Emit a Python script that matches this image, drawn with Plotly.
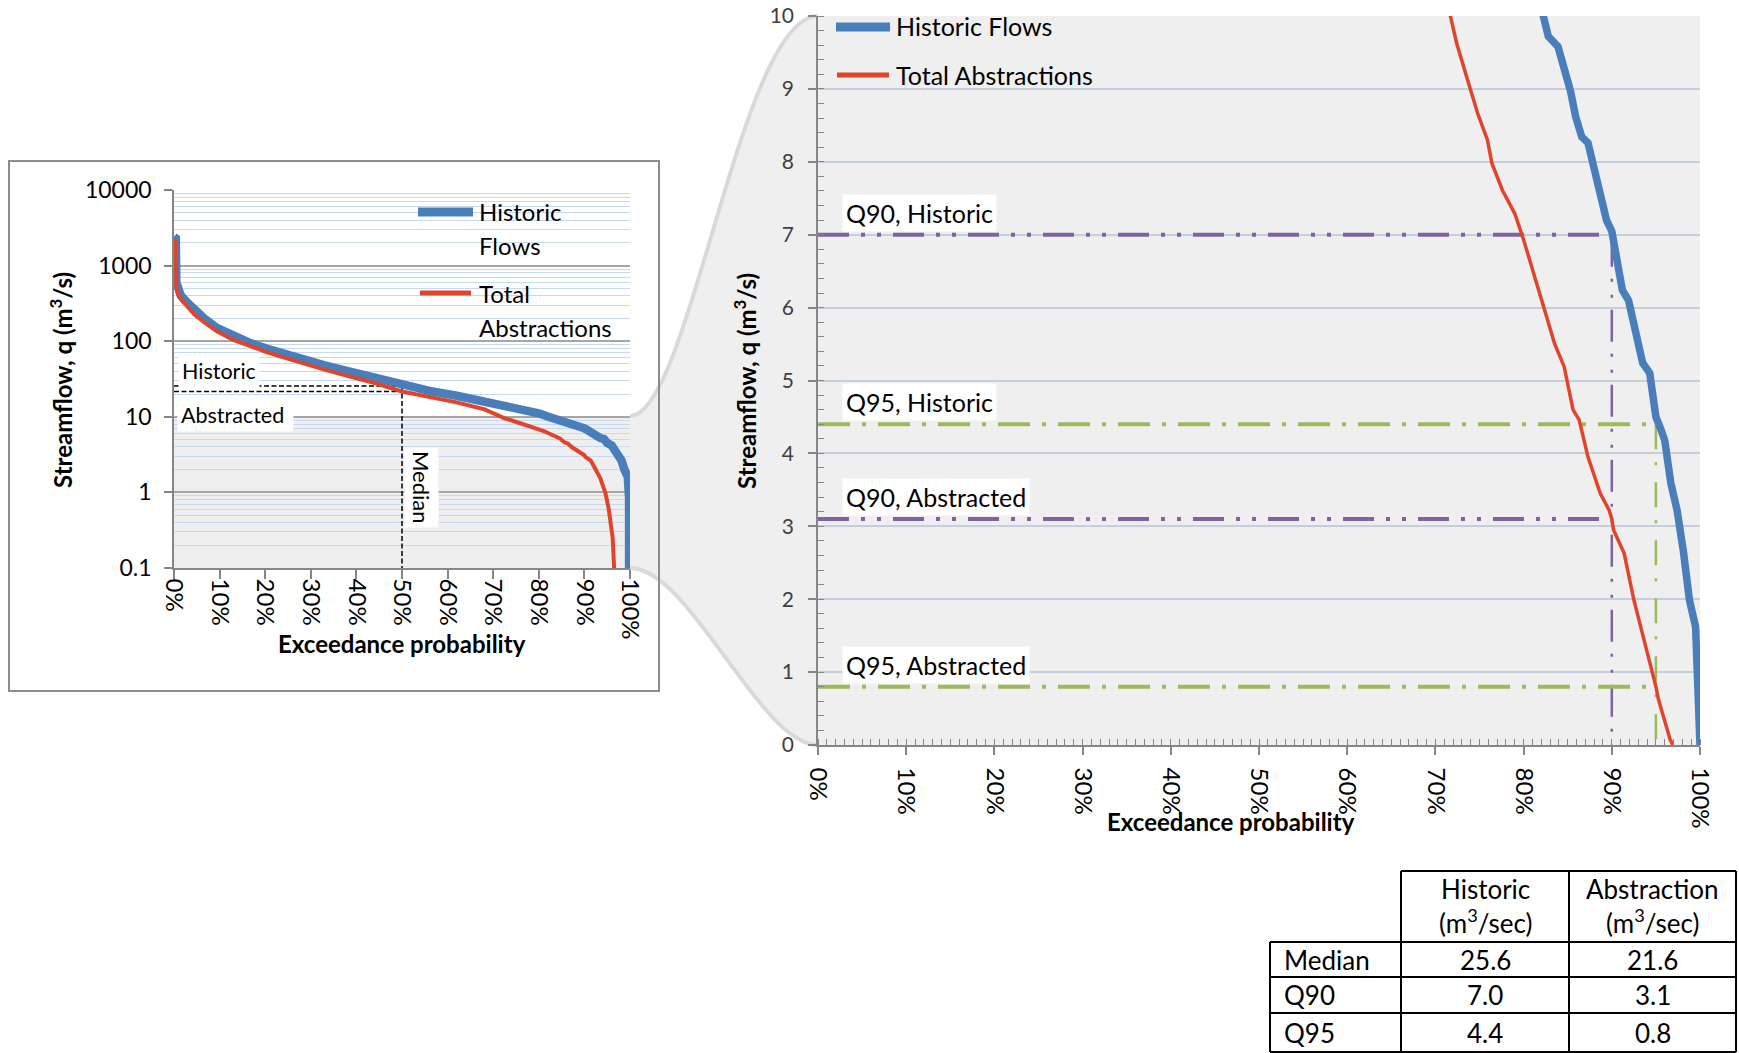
import plotly.graph_objects as go

W, H = 1739, 1053

# ---------------- data ----------------
hist_p = [0.000, 0.004, 0.005, 0.008, 0.015, 0.028, 0.045, 0.066, 0.094, 0.130,
          0.170, 0.203, 0.240, 0.276, 0.330, 0.386, 0.440, 0.500, 0.560, 0.620,
          0.680, 0.744, 0.800, 0.821, 0.828, 0.839, 0.853, 0.859, 0.866, 0.873,
          0.884, 0.894, 0.900, 0.905, 0.912, 0.919, 0.929, 0.935, 0.943, 0.950,
          0.955, 0.960, 0.967, 0.974, 0.981, 0.988, 0.995, 0.998, 0.9995, 1.000, 1.000]
hist_q = [2400, 2300, 600, 480, 400, 330, 255, 200, 150, 116,
          93, 80, 68, 59, 48, 39.5, 33, 25.6, 22, 19,
          16, 13, 11.1, 10.0, 9.72, 9.58, 8.98, 8.62, 8.34, 8.26,
          7.66, 7.20, 7.05, 6.75, 6.24, 6.10, 5.51, 5.24, 5.10, 4.50,
          4.35, 4.18, 3.59, 3.22, 2.67, 1.99, 1.62, 0.85, 0.30, 0.05, 0.0]

abst_p = [0.000, 0.004, 0.005, 0.008, 0.015, 0.028, 0.045, 0.066, 0.094, 0.130,
          0.170, 0.203, 0.240, 0.276, 0.330, 0.386, 0.440, 0.500, 0.560, 0.620,
          0.680, 0.717, 0.724, 0.741, 0.748, 0.759, 0.764, 0.776, 0.790, 0.800,
          0.811, 0.825, 0.835, 0.846, 0.856, 0.863, 0.873, 0.887, 0.897, 0.900,
          0.902, 0.914, 0.925, 0.935, 0.946, 0.950, 0.953, 0.962, 0.966, 0.969]
abst_q = [2200, 2100, 520, 430, 360, 290, 225, 178, 135, 104,
          84, 72, 61, 52, 42, 34, 28, 21.6, 18.2, 15.5,
          12.6, 10.0, 9.63, 8.94, 8.66, 8.30, 7.98, 7.61, 7.29, 6.93,
          6.47, 5.92, 5.51, 5.19, 4.60, 4.46, 3.95, 3.45, 3.22, 3.10,
          2.95, 2.63, 1.99, 1.53, 0.99, 0.80, 0.62, 0.25, 0.08, 0.0]

stat_names = ["Median", "Q90", "Q95"]
stat_exceed = [0.50, 0.90, 0.95]
hist_stats = [25.6, 7.0, 4.4]
abst_stats = [21.6, 3.1, 0.8]

log_tickvals = [0.1, 1, 10, 100, 1000, 10000]
log_ticktext = ["0.1", "1", "10", "100", "1000", "10000"]
pct_tickvals = [0, 0.1, 0.2, 0.3, 0.4, 0.5, 0.6, 0.7, 0.8, 0.9, 1.0]
pct_ticktext = ["0%", "10%", "20%", "30%", "40%", "50%", "60%", "70%", "80%", "90%", "100%"]
lin_tickvals = [0, 1, 2, 3, 4, 5, 6, 7, 8, 9, 10]

series_names = ["Historic Flows", "Total Abstractions"]

# ---------------- styles ----------------
FONT = "Lato"
BLUE = "#4a7ebb"
RED = "#e0452b"
PURPLE = "#7f63a1"
GREEN = "#9bbb59"
AXIS = "#868686"


def fx(px):
    return px / W


def fy(py):
    return 1 - py / H


fig = go.Figure()

# ---- left chart (log) ----
med_i = 0
dash_black = dict(color="black", width=1.5, dash="5px,2.5px")
fig.add_trace(go.Scatter(x=[0, stat_exceed[med_i]], y=[hist_stats[med_i]] * 2, mode="lines",
                         line=dash_black, xaxis="x", yaxis="y", showlegend=False, hoverinfo="skip"))
fig.add_trace(go.Scatter(x=[0, stat_exceed[med_i]], y=[abst_stats[med_i]] * 2, mode="lines",
                         line=dash_black, xaxis="x", yaxis="y", showlegend=False, hoverinfo="skip"))
fig.add_trace(go.Scatter(x=[stat_exceed[med_i]] * 2, y=[hist_stats[med_i], log_tickvals[0]], mode="lines",
                         line=dash_black, xaxis="x", yaxis="y", showlegend=False, hoverinfo="skip"))
fig.add_trace(go.Scatter(x=hist_p, y=hist_q, mode="lines", name=series_names[0],
                         line=dict(color=BLUE, width=8.5), xaxis="x", yaxis="y", showlegend=False))
fig.add_trace(go.Scatter(x=abst_p, y=abst_q, mode="lines", name=series_names[1],
                         line=dict(color=RED, width=4), xaxis="x", yaxis="y", showlegend=False))

# ---- right chart (linear zoom) ----
qcol = [None, PURPLE, GREEN]
qdash = [None, "31px,12px,4px,12px,4px,12px", "32px,12px,4px,12px"]
vdash = [None, "32px,12px,3px,13px,3px,12px", "25px,13px,3px,17px"]
for i in (1, 2):
    for vals in (hist_stats, abst_stats):
        fig.add_trace(go.Scatter(x=[0, stat_exceed[i]], y=[vals[i]] * 2, mode="lines",
                                 line=dict(color=qcol[i], width=4, dash=qdash[i]),
                                 xaxis="x2", yaxis="y2", showlegend=False, hoverinfo="skip"))
    fig.add_trace(go.Scatter(x=[stat_exceed[i]] * 2, y=[hist_stats[i], 0], mode="lines",
                             line=dict(color=qcol[i], width=2.5, dash=vdash[i]),
                             xaxis="x2", yaxis="y2", showlegend=False, hoverinfo="skip"))

fig.add_trace(go.Scatter(x=hist_p, y=hist_q, mode="lines", name=series_names[0],
                         line=dict(color=BLUE, width=7.5), xaxis="x2", yaxis="y2", showlegend=False))
fig.add_trace(go.Scatter(x=abst_p, y=abst_q, mode="lines", name=series_names[1],
                         line=dict(color=RED, width=3.5), xaxis="x2", yaxis="y2", showlegend=False))

xtickfont = dict(family=FONT, size=24, color="black")
ytickfont = dict(family=FONT, size=23, color="black")

fig.update_layout(
    width=W, height=H,
    margin=dict(l=0, r=0, t=0, b=0, autoexpand=False),
    paper_bgcolor="white",
    plot_bgcolor="rgba(0,0,0,0)",
    showlegend=False,
    font=dict(family=FONT, color="black"),
    xaxis=dict(domain=[fx(174), fx(630)], anchor="y", range=[0, 1], automargin=False,
               tickvals=pct_tickvals, ticktext=pct_ticktext, tickangle=90,
               ticks="outside", ticklen=9, tickcolor=AXIS, tickwidth=1.5,
               showline=True, linecolor=AXIS, linewidth=1.5, showgrid=False, zeroline=False,
               tickfont=xtickfont, ticklabelstandoff=-5),
    yaxis=dict(domain=[fy(568), fy(190)], anchor="x", type="log", range=[-1, 4], automargin=False,
               tickvals=log_tickvals, ticktext=log_ticktext,
               ticks="outside", ticklen=8, tickcolor=AXIS, tickwidth=1.5,
               showline=True, linecolor=AXIS, linewidth=1.5,
               showgrid=True, gridcolor="#a6a6a6", gridwidth=1.5, zeroline=False,
               minor=dict(dtick="D1", showgrid=True, gridcolor="#c6d9f1", gridwidth=1, ticks=""),
               tickfont=ytickfont, ticklabelstandoff=8),
    xaxis2=dict(domain=[fx(818), fx(1700)], anchor="y2", range=[0, 1], automargin=False,
                tickvals=pct_tickvals, ticktext=pct_ticktext, tickangle=90,
                ticks="outside", ticklen=8, tickcolor=AXIS, tickwidth=1.5,
                minor=dict(ticks="inside", ticklen=6, dtick=0.01, tickcolor=AXIS, tickwidth=1, showgrid=False),
                showline=True, linecolor=AXIS, linewidth=1.5, showgrid=False, zeroline=False,
                tickfont=xtickfont, ticklabelstandoff=8),
    yaxis2=dict(domain=[fy(745), fy(16)], anchor="x2", range=[0, 10], automargin=False,
                tickvals=lin_tickvals,
                ticks="outside", ticklen=8, tickcolor=AXIS, tickwidth=1.5,
                minor=dict(ticks="inside", ticklen=6, dtick=0.2, tickcolor=AXIS, tickwidth=1, showgrid=False),
                showline=True, linecolor=AXIS, linewidth=1.5,
                showgrid=True, gridcolor="#c5cfdc", gridwidth=1.5, zeroline=False,
                tickfont=dict(family=FONT, size=21, color="#404040"), ticklabelstandoff=10),
)

# ---- zoom callout (bell) ----
def P(x, y):
    return f"{fx(x):.5f},{fy(y):.5f}"

bell = (f"M {P(174,416)} L {P(630,416)} C {P(690,416)} {P(740,16)} {P(818,16)} "
        f"L {P(1700,16)} L {P(1700,745)} L {P(818,745)} "
        f"C {P(760,745)} {P(690,568)} {P(630,568)} L {P(174,568)} Z")
fig.add_shape(type="path", path=bell, xref="paper", yref="paper",
              fillcolor="#efefef", line=dict(width=0), layer="below")
upper = f"M {P(630,416)} C {P(690,416)} {P(740,16)} {P(818,16)}"
lower = f"M {P(630,568)} C {P(690,568)} {P(760,745)} {P(818,745)}"
for pth in (upper, lower):
    fig.add_shape(type="path", path=pth, xref="paper", yref="paper",
                  line=dict(color="#d9d9d9", width=4), layer="below")

# left chart frame
fig.add_shape(type="rect", xref="paper", yref="paper", x0=fx(9), x1=fx(659), y0=fy(691), y1=fy(161),
              line=dict(color="#8c8c8c", width=2), layer="above")

# ---- custom legends ----
def legend_line(x0, x1, y, color, width):
    fig.add_shape(type="line", xref="paper", yref="paper", x0=fx(x0), x1=fx(x1), y0=fy(y), y1=fy(y),
                  line=dict(color=color, width=width), layer="above")


def text(x, y, s, size=22, xanchor="left", **kw):
    fig.add_annotation(x=fx(x), y=fy(y), xref="paper", yref="paper", text=s, showarrow=False,
                       xanchor=xanchor, yanchor="middle", font=dict(family=FONT, size=size, color="black"), **kw)

# right legend
legend_line(836, 890, 27, BLUE, 9)
legend_line(837, 889, 75, RED, 5)
text(894, 26, series_names[0], size=25)
text(894, 75, series_names[1], size=25)
# left legend
legend_line(418, 473, 212, BLUE, 9)
legend_line(420, 471, 293, RED, 5)
text(477, 212, "Historic", size=24)
text(477, 245, "Flows", size=24)
text(477, 293, "Total", size=24)
text(477, 327, "Abstractions", size=24)

# left chart labels
text(178, 371, "Historic", size=21.5, bgcolor="white", borderpad=3)
text(177, 415, "Abstracted&nbsp;", size=21.5, bgcolor="white", borderpad=3)
fig.add_annotation(x=fx(421), y=fy(487), xref="paper", yref="paper", text="Median", showarrow=False,
                   textangle=90, xanchor="center", yanchor="middle",
                   font=dict(family=FONT, size=22, color="black"), bgcolor="white", borderpad=3)

# axis titles
title_font = dict(family=FONT, size=24, color="black", weight="bold")
ytitle = "Streamflow, q (m<sup>3</sup>/s)"
xtitle = "Exceedance probability"
for (tx, ty, s, ang) in ((61, 380, ytitle, -90), (402, 643, xtitle, 0),
                         (745, 381, ytitle, -90), (1231, 821, xtitle, 0)):
    fig.add_annotation(x=fx(tx), y=fy(ty), xref="paper", yref="paper", text=s, showarrow=False,
                       textangle=ang, xanchor="center", yanchor="middle", font=title_font)

# Q labels on the zoom chart
for i in (1, 2):
    for vals, lab in ((hist_stats, "Historic"), (abst_stats, "Abstracted")):
        fig.add_annotation(x=0, y=vals[i], xref="x2", yref="y2", text=f"{stat_names[i]}, {lab}",
                           showarrow=False, xanchor="left", yanchor="bottom", xshift=24, yshift=3,
                           bgcolor="white", borderpad=3, font=dict(family=FONT, size=25, color="black"))

# ---- statistics table ----
cx = [1270, 1401, 1569, 1736]
ry = [871, 942, 977, 1013, 1052]
LW = 2
def hline(x0, x1, y):
    fig.add_shape(type="line", xref="paper", yref="paper", x0=fx(x0), x1=fx(x1), y0=fy(y), y1=fy(y),
                  line=dict(color="black", width=LW))
def vline(x, y0, y1):
    fig.add_shape(type="line", xref="paper", yref="paper", x0=fx(x), x1=fx(x), y0=fy(y0), y1=fy(y1),
                  line=dict(color="black", width=LW))

hline(cx[1], cx[3], ry[0])
for yy in ry[1:]:
    hline(cx[0], cx[3], yy)
vline(cx[0], ry[1], ry[4])
for xx in cx[1:]:
    vline(xx, ry[0], ry[4])

col_c = [(cx[1] + cx[2]) / 2, (cx[2] + cx[3]) / 2]
headers = ["Historic", "Abstraction"]
for c, hd in zip(col_c, headers):
    text(c, 889, hd, size=26, xanchor="center")
    text(c, 921, "(m<sup>3</sup>/sec)", size=26, xanchor="center")
row_c = [(ry[k] + ry[k + 1]) / 2 for k in range(1, 4)]
for k, nm in enumerate(stat_names):
    text(cx[0] + 12, row_c[k], nm, size=26)
    text(col_c[0], row_c[k], f"{hist_stats[k]:.1f}", size=26, xanchor="center")
    text(col_c[1], row_c[k], f"{abst_stats[k]:.1f}", size=26, xanchor="center")

fig.write_html("out.html")
